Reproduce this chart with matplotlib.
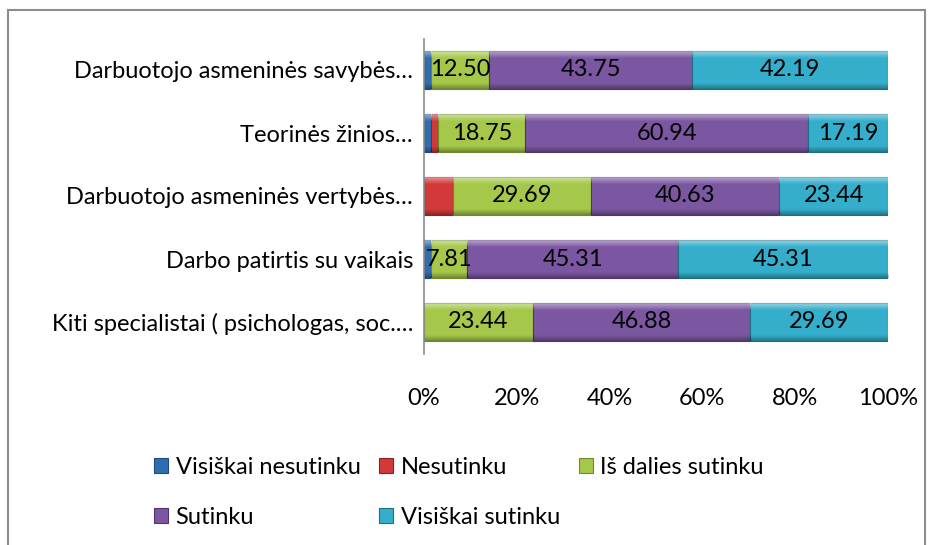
import numpy as np
import matplotlib
matplotlib.use("Agg")
from matplotlib import pyplot as plt
from matplotlib.patches import Rectangle

plt.rcParams['font.family'] = ['Lato', 'DejaVu Sans']

# categories, top to bottom as in the chart
categories = [
    "Darbuotojo asmeninės savybės…",
    "Teorinės žinios…",
    "Darbuotojo asmeninės vertybės…",
    "Darbo patirtis su vaikais",
    "Kiti specialistai ( psichologas, soc.…",
]

series_names = ["Visiškai nesutinku", "Nesutinku", "Iš dalies sutinku",
                "Sutinku", "Visiškai sutinku"]

visiskai_nesutinku = [1.56, 1.56, 0.00, 1.56, 0.00]
nesutinku = [0.00, 1.56, 6.25, 0.00, 0.00]
is_dalies = [12.50, 18.75, 29.69, 7.81, 23.44]
sutinku = [43.75, 60.94, 40.63, 45.31, 46.88]
visiskai_sutinku = [42.19, 17.19, 23.44, 45.31, 29.69]

colors = ["#2f6db3", "#d23a3a", "#a5c84a", "#7b57a1", "#35aecb"]
edges = ["#1f4a7a", "#8a2424", "#6d8a2a", "#4f3470", "#1d6f84"]
show_label = [False, False, True, True, True]

data = [visiskai_nesutinku, nesutinku, is_dalies, sutinku, visiskai_sutinku]

FS = 17
BAR_H = 0.59

# soft bevel: light band on top, darker band at bottom
n = 40
shade = np.zeros((n, 1, 4))
t = np.linspace(0, 1, n)
top = np.clip(1 - t / 0.18, 0, 1)
bot = np.clip((t - 0.85) / 0.15, 0, 1)
shade[:, 0, :3] = np.where(top[:, None] > 0, 1.0, 0.0)
shade[:, 0, 3] = 0.45 * top + 0.3 * bot

fig = plt.figure(figsize=(9.35, 5.45), dpi=100)
# outer chart frame
fig.patches.append(Rectangle((8 / 935, -0.05), 917 / 935, 1.05 - 10 / 545,
                             transform=fig.transFigure, fill=False,
                             edgecolor="#8c8c8c", linewidth=1.5))

ax = fig.add_axes([424 / 935, 1 - 353.5 / 545, 464 / 935, 315 / 545])

y = np.arange(len(categories))
left = np.zeros(len(categories))
handles = []
for vals, name, c, ec, lab in zip(data, series_names, colors, edges, show_label):
    vals = np.array(vals)
    bars = ax.barh(y, vals, left=left, height=BAR_H, color=c, edgecolor=ec,
                   linewidth=0.8, label=name, zorder=1)
    handles.append(bars)
    for yi, li, v in zip(y, left, vals):
        if v > 0:
            ax.imshow(shade, extent=(li, li + v, yi - BAR_H / 2, yi + BAR_H / 2),
                      origin="lower", aspect="auto", zorder=1.5,
                      interpolation="bilinear")
            if lab:
                ax.text(li + v / 2, yi, "%.2f" % v, ha="center", va="center",
                        fontsize=FS, color="black", zorder=3)
    left = left + vals

ax.set_xlim(0, 100)
ax.set_ylim(len(categories) - 0.5, -0.5)
ax.set_aspect("auto")
ax.set_yticks(y)
ax.set_yticklabels(categories, fontsize=FS)
ax.set_xticks(np.arange(0, 101, 20))
ax.set_xticklabels(["%d%%" % t for t in range(0, 101, 20)], fontsize=FS)
ax.tick_params(axis="both", length=0)
ax.tick_params(axis="x", pad=25)
ax.tick_params(axis="y", pad=8)
for s in ["top", "right", "bottom"]:
    ax.spines[s].set_visible(False)
ax.spines["left"].set_color("#8c8c8c")
ax.spines["left"].set_linewidth(1.2)

# legend: column-major order so rows read like the original
order = [0, 3, 1, 4, 2]
fig.legend([handles[i] for i in order], [series_names[i] for i in order],
           ncol=3, loc="upper left", bbox_to_anchor=(133 / 935, 1 - 436 / 545),
           frameon=False, fontsize=FS, handlelength=0.6, handleheight=0.6,
           handletextpad=0.3, columnspacing=0.8, labelspacing=1.2)

fig.savefig("out.png", dpi=100)
